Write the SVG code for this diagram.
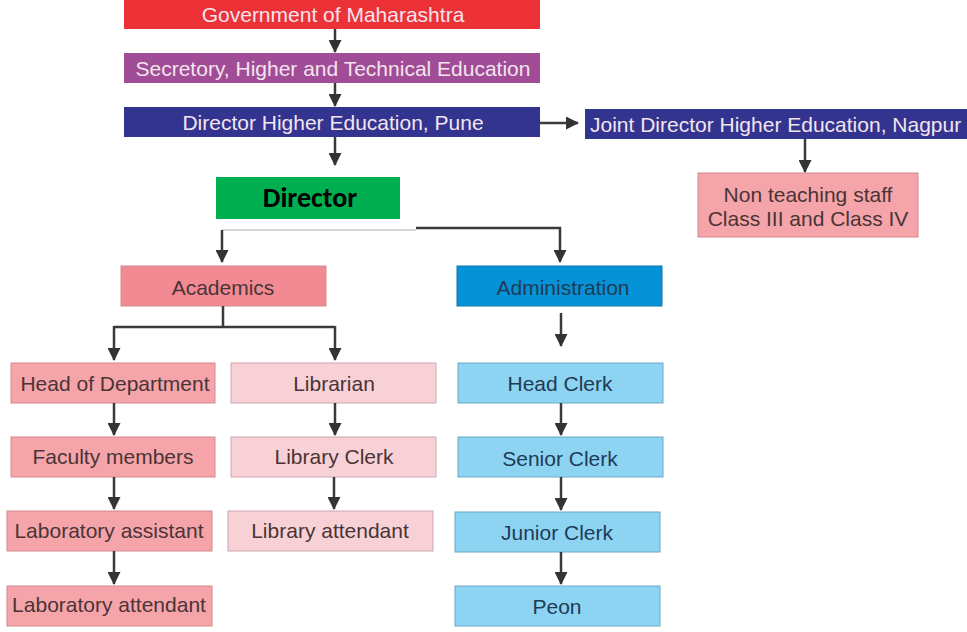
<svg xmlns="http://www.w3.org/2000/svg" width="967" height="632" viewBox="0 0 967 632">
<defs>
<marker id="ah" viewBox="0 0 13 13" refX="12" refY="6.5" markerWidth="13" markerHeight="13" markerUnits="userSpaceOnUse" orient="auto">
<path d="M0,0 L13,6.5 L0,13 Z" fill="#333"/>
</marker>
<style>
text{font-family:"Liberation Sans",Arial,sans-serif;font-size:21px;text-anchor:middle;dominant-baseline:central}
.top text{fill:#f3e4ee}
.red{fill:#ec3237}
.pur{fill:#a14c96}
.navy{fill:#32348f}
.pink rect{fill:#f5a4aa;stroke:#d28a90;stroke-width:1}
.lpink rect{fill:#f7d1d6;stroke:#cfa8ad;stroke-width:1}
.pink text,.lpink text{fill:#4a3436}
.blue rect{fill:#8dd3f2;stroke:#6aa9c6;stroke-width:1}
.blue text{fill:#1f3b55}
.c{stroke:#3a3a3a;stroke-width:2.5;fill:none}
</style>
</defs>
<rect width="967" height="632" fill="#fff"/>

<g id="gov" class="top"><rect class="red" x="124" y="0" width="416" height="29"/><text x="333" y="14">Government of Maharashtra</text></g>
<g id="sec" class="top"><rect class="pur" x="124" y="53" width="416" height="30"/><text x="333" y="68">Secretory, Higher and Technical Education</text></g>
<g id="pune" class="top"><rect class="navy" x="124" y="107" width="416" height="30"/><text x="333" y="122">Director Higher Education, Pune</text></g>
<g id="nagpur" class="top"><rect class="navy" x="585" y="109" width="382" height="30"/><text x="590" y="124" style="text-anchor:start">Joint Director Higher Education, Nagpur</text></g>
<g id="nonteach" class="pink"><rect x="698" y="173" width="220" height="64"/><text x="808" y="194">Non teaching staff</text><text x="808" y="218">Class III and Class IV</text></g>
<g id="director"><rect x="216" y="177" width="184" height="42" fill="#00b050"/><text x="310" y="197" style="font-family:Carlito,Calibri,'Liberation Sans',sans-serif;font-weight:bold;font-size:28px;fill:#000">Director</text></g>

<g id="academics" class="pink"><rect x="121" y="266" width="205" height="40" style="fill:#f18a93"/><text x="223" y="287">Academics</text></g>
<g id="admin" class="blue"><rect x="457" y="266" width="205" height="40" style="fill:#0592d6;stroke:#0a78b0"/><text x="563" y="287">Administration</text></g>

<g id="hod" class="pink"><rect x="11" y="363" width="204" height="40"/><text x="115" y="383">Head of Department</text></g>
<g id="librarian" class="lpink"><rect x="231" y="363" width="205" height="40"/><text x="334" y="383">Librarian</text></g>
<g id="headclerk" class="blue"><rect x="458" y="363" width="205" height="40"/><text x="560" y="383">Head Clerk</text></g>

<g id="faculty" class="pink"><rect x="11" y="437" width="204" height="40"/><text x="113" y="456">Faculty members</text></g>
<g id="libclerk" class="lpink"><rect x="231" y="437" width="205" height="40"/><text x="334" y="456">Library Clerk</text></g>
<g id="seniorclerk" class="blue"><rect x="458" y="437" width="205" height="40"/><text x="560" y="458">Senior Clerk</text></g>

<g id="labasst" class="pink"><rect x="7" y="511" width="205" height="40"/><text x="109" y="530">Laboratory assistant</text></g>
<g id="libatt" class="lpink"><rect x="228" y="511" width="205" height="40"/><text x="330" y="530">Library attendant</text></g>
<g id="juniorclerk" class="blue"><rect x="455" y="512" width="205" height="40"/><text x="557" y="532">Junior Clerk</text></g>

<g id="labatt" class="pink"><rect x="7" y="586" width="205" height="40"/><text x="109" y="604">Laboratory attendant</text></g>
<g id="peon" class="blue"><rect x="455" y="586" width="205" height="40"/><text x="557" y="606">Peon</text></g>

<g id="connectors">
<path class="c" d="M335,29 V52" marker-end="url(#ah)"/>
<path class="c" d="M335,83 V106" marker-end="url(#ah)"/>
<path class="c" d="M540,123 H578" marker-end="url(#ah)"/>
<path class="c" d="M335,137 V165" marker-end="url(#ah)"/>
<path class="c" d="M805,139 V172" marker-end="url(#ah)"/>
<path d="M416,230 H222" stroke="#c8c8c8" stroke-width="1.5" fill="none"/>
<path class="c" d="M222,230 V262" marker-end="url(#ah)"/>
<path class="c" d="M416,228 H560 V262" marker-end="url(#ah)"/>
<path class="c" d="M223,306 V327 M114,327 H335"/>
<path class="c" d="M114,326 V360" marker-end="url(#ah)"/>
<path class="c" d="M335,326 V360" marker-end="url(#ah)"/>
<path class="c" d="M561,313 V346" marker-end="url(#ah)"/>
<path class="c" d="M114,403 V435" marker-end="url(#ah)"/>
<path class="c" d="M335,403 V435" marker-end="url(#ah)"/>
<path class="c" d="M561,403 V435" marker-end="url(#ah)"/>
<path class="c" d="M114,477 V509" marker-end="url(#ah)"/>
<path class="c" d="M334,477 V509" marker-end="url(#ah)"/>
<path class="c" d="M561,477 V510" marker-end="url(#ah)"/>
<path class="c" d="M114,551 V584" marker-end="url(#ah)"/>
<path class="c" d="M561,552 V584" marker-end="url(#ah)"/>
</g>
</svg>
